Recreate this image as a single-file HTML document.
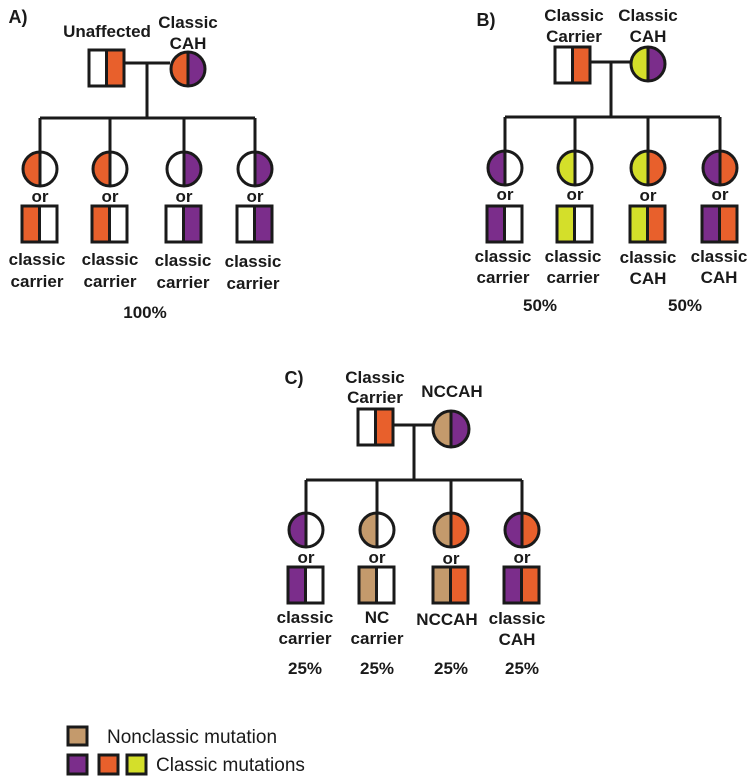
<!DOCTYPE html>
<html><head><meta charset="utf-8"><style>
html,body{margin:0;padding:0;background:#fff}
svg{display:block}
text{font-family:"Liberation Sans",Arial,sans-serif;font-weight:bold;font-size:17px;fill:#1a1a1a;text-anchor:middle}
.n{font-weight:normal;font-size:19px;text-anchor:start}
.h{font-size:18px}
</style></head><body>
<svg width="754" height="784" viewBox="0 0 754 784" xmlns="http://www.w3.org/2000/svg">
<g stroke="#1a1a1a" stroke-width="3" fill="none">
<!-- A lines -->
<path d="M124 63H170M147 63V118M40 118H255M40 118V152M110 118V152M184 118V152M255 118V152"/>
<!-- B lines -->
<path d="M590 62H631M611 62V117M505 117H720M505 117V151M575 117V151M648 117V151M720 117V151"/>
<!-- C lines -->
<path d="M392 425H433M414 425V480M306 480H522M306 480V513M377 480V513M451 480V513M522 480V513"/>
</g>
<script>
</script>
<g id="shapes">
<!-- A parents -->
<rect x="89" y="50" width="17.5" height="36" fill="#fff"/><rect x="106.5" y="50" width="17.5" height="36" fill="#e8602c"/>
<path d="M188 52A17 17 0 0 0 188 86Z" fill="#e8602c"/><path d="M188 52A17 17 0 0 1 188 86Z" fill="#7b2d8b"/>
<!-- B parents -->
<rect x="555" y="47" width="17.5" height="36" fill="#fff"/><rect x="572.5" y="47" width="17.5" height="36" fill="#e8602c"/>
<path d="M648 47A17 17 0 0 0 648 81Z" fill="#d4df2a"/><path d="M648 47A17 17 0 0 1 648 81Z" fill="#7b2d8b"/>
<!-- C parents -->
<rect x="358" y="409" width="17.5" height="36" fill="#fff"/><rect x="375.5" y="409" width="17.5" height="36" fill="#e8602c"/>
<path d="M451 411A17 17 0 0 0 451 447Z" fill="#c49a6c"/><path d="M451 411A17 17 0 0 1 451 447Z" fill="#7b2d8b"/>
</g>
<g stroke="#1a1a1a" stroke-width="3" fill="none">
<rect x="89" y="50" width="35" height="36"/><line x1="106.5" y1="50" x2="106.5" y2="86"/>
<circle cx="188" cy="69" r="17"/><line x1="188" y1="52" x2="188" y2="86"/>
<rect x="555" y="47" width="35" height="36"/><line x1="572.5" y1="47" x2="572.5" y2="83"/>
<circle cx="648" cy="64" r="17"/><line x1="648" y1="47" x2="648" y2="81"/>
<rect x="358" y="409" width="35" height="36"/><line x1="375.5" y1="409" x2="375.5" y2="445"/>
<circle cx="451" cy="429" r="18"/><line x1="451" y1="411" x2="451" y2="447"/>
</g>

<!-- children fills -->
<g>
<!-- A -->
<path d="M40 152A17 17 0 0 0 40 186Z" fill="#e8602c"/><path d="M40 152A17 17 0 0 1 40 186Z" fill="#fff"/>
<rect x="22" y="206" width="17.5" height="36" fill="#e8602c"/><rect x="39.5" y="206" width="17.5" height="36" fill="#fff"/>
<path d="M110 152A17 17 0 0 0 110 186Z" fill="#e8602c"/><path d="M110 152A17 17 0 0 1 110 186Z" fill="#fff"/>
<rect x="92" y="206" width="17.5" height="36" fill="#e8602c"/><rect x="109.5" y="206" width="17.5" height="36" fill="#fff"/>
<path d="M184 152A17 17 0 0 0 184 186Z" fill="#fff"/><path d="M184 152A17 17 0 0 1 184 186Z" fill="#7b2d8b"/>
<rect x="166" y="206" width="17.5" height="36" fill="#fff"/><rect x="183.5" y="206" width="17.5" height="36" fill="#7b2d8b"/>
<path d="M255 152A17 17 0 0 0 255 186Z" fill="#fff"/><path d="M255 152A17 17 0 0 1 255 186Z" fill="#7b2d8b"/>
<rect x="237" y="206" width="17.5" height="36" fill="#fff"/><rect x="254.5" y="206" width="17.5" height="36" fill="#7b2d8b"/>
<!-- B -->
<path d="M505 151A17 17 0 0 0 505 185Z" fill="#7b2d8b"/><path d="M505 151A17 17 0 0 1 505 185Z" fill="#fff"/>
<rect x="487" y="206" width="17.5" height="36" fill="#7b2d8b"/><rect x="504.5" y="206" width="17.5" height="36" fill="#fff"/>
<path d="M575 151A17 17 0 0 0 575 185Z" fill="#d4df2a"/><path d="M575 151A17 17 0 0 1 575 185Z" fill="#fff"/>
<rect x="557" y="206" width="17.5" height="36" fill="#d4df2a"/><rect x="574.5" y="206" width="17.5" height="36" fill="#fff"/>
<path d="M648 151A17 17 0 0 0 648 185Z" fill="#d4df2a"/><path d="M648 151A17 17 0 0 1 648 185Z" fill="#e8602c"/>
<rect x="630" y="206" width="17.5" height="36" fill="#d4df2a"/><rect x="647.5" y="206" width="17.5" height="36" fill="#e8602c"/>
<path d="M720 151A17 17 0 0 0 720 185Z" fill="#7b2d8b"/><path d="M720 151A17 17 0 0 1 720 185Z" fill="#e8602c"/>
<rect x="702" y="206" width="17.5" height="36" fill="#7b2d8b"/><rect x="719.5" y="206" width="17.5" height="36" fill="#e8602c"/>
<!-- C -->
<path d="M306 513A17 17 0 0 0 306 547Z" fill="#7b2d8b"/><path d="M306 513A17 17 0 0 1 306 547Z" fill="#fff"/>
<rect x="288" y="567" width="17.5" height="36" fill="#7b2d8b"/><rect x="305.5" y="567" width="17.5" height="36" fill="#fff"/>
<path d="M377 513A17 17 0 0 0 377 547Z" fill="#c49a6c"/><path d="M377 513A17 17 0 0 1 377 547Z" fill="#fff"/>
<rect x="359" y="567" width="17.5" height="36" fill="#c49a6c"/><rect x="376.5" y="567" width="17.5" height="36" fill="#fff"/>
<path d="M451 513A17 17 0 0 0 451 547Z" fill="#c49a6c"/><path d="M451 513A17 17 0 0 1 451 547Z" fill="#e8602c"/>
<rect x="433" y="567" width="17.5" height="36" fill="#c49a6c"/><rect x="450.5" y="567" width="17.5" height="36" fill="#e8602c"/>
<path d="M522 513A17 17 0 0 0 522 547Z" fill="#7b2d8b"/><path d="M522 513A17 17 0 0 1 522 547Z" fill="#e8602c"/>
<rect x="504" y="567" width="17.5" height="36" fill="#7b2d8b"/><rect x="521.5" y="567" width="17.5" height="36" fill="#e8602c"/>
</g>
<g stroke="#1a1a1a" stroke-width="3" fill="none">
<circle cx="40" cy="169" r="17"/><circle cx="110" cy="169" r="17"/><circle cx="184" cy="169" r="17"/><circle cx="255" cy="169" r="17"/>
<path d="M40 152V186M110 152V186M184 152V186M255 152V186"/>
<rect x="22" y="206" width="35" height="36"/><rect x="92" y="206" width="35" height="36"/><rect x="166" y="206" width="35" height="36"/><rect x="237" y="206" width="35" height="36"/>
<path d="M39.5 206V242M109.5 206V242M183.5 206V242M254.5 206V242"/>
<circle cx="505" cy="168" r="17"/><circle cx="575" cy="168" r="17"/><circle cx="648" cy="168" r="17"/><circle cx="720" cy="168" r="17"/>
<path d="M505 151V185M575 151V185M648 151V185M720 151V185"/>
<rect x="487" y="206" width="35" height="36"/><rect x="557" y="206" width="35" height="36"/><rect x="630" y="206" width="35" height="36"/><rect x="702" y="206" width="35" height="36"/>
<path d="M504.5 206V242M574.5 206V242M647.5 206V242M719.5 206V242"/>
<circle cx="306" cy="530" r="17"/><circle cx="377" cy="530" r="17"/><circle cx="451" cy="530" r="17"/><circle cx="522" cy="530" r="17"/>
<path d="M306 513V547M377 513V547M451 513V547M522 513V547"/>
<rect x="288" y="567" width="35" height="36"/><rect x="359" y="567" width="35" height="36"/><rect x="433" y="567" width="35" height="36"/><rect x="504" y="567" width="35" height="36"/>
<path d="M305.5 567V603M376.5 567V603M450.5 567V603M521.5 567V603"/>
</g>

<!-- text A -->
<text x="18" y="23" class="h">A)</text>
<text x="107" y="37">Unaffected</text>
<text x="188" y="28">Classic</text><text x="188" y="49">CAH</text>
<text x="40" y="202">or</text><text x="110" y="202">or</text><text x="184" y="202">or</text><text x="255" y="202">or</text>
<text x="37" y="265">classic</text><text x="37" y="287">carrier</text>
<text x="110" y="265">classic</text><text x="110" y="287">carrier</text>
<text x="183" y="266">classic</text><text x="183" y="288">carrier</text>
<text x="253" y="267">classic</text><text x="253" y="289">carrier</text>
<text x="145" y="318">100%</text>
<!-- text B -->
<text x="486" y="26" class="h">B)</text>
<text x="574" y="21">Classic</text><text x="574" y="42">Carrier</text>
<text x="648" y="21">Classic</text><text x="648" y="42">CAH</text>
<text x="505" y="200">or</text><text x="575" y="200">or</text><text x="648" y="201">or</text><text x="720" y="200">or</text>
<text x="503" y="262">classic</text><text x="503" y="283">carrier</text>
<text x="573" y="262">classic</text><text x="573" y="283">carrier</text>
<text x="648" y="263">classic</text><text x="648" y="284">CAH</text>
<text x="719" y="262">classic</text><text x="719" y="283">CAH</text>
<text x="540" y="311">50%</text><text x="685" y="311">50%</text>
<!-- text C -->
<text x="294" y="384" class="h">C)</text>
<text x="375" y="383">Classic</text><text x="375" y="403">Carrier</text>
<text x="452" y="397">NCCAH</text>
<text x="306" y="563">or</text><text x="377" y="563">or</text><text x="451" y="564">or</text><text x="522" y="563">or</text>
<text x="305" y="623">classic</text><text x="305" y="644">carrier</text>
<text x="377" y="623">NC</text><text x="377" y="644">carrier</text>
<text x="447" y="625">NCCAH</text>
<text x="517" y="624">classic</text><text x="517" y="645">CAH</text>
<text x="305" y="674">25%</text><text x="377" y="674">25%</text><text x="451" y="674">25%</text><text x="522" y="674">25%</text>
<!-- legend -->
<g stroke="#1a1a1a" stroke-width="3">
<rect x="68" y="727" width="19" height="18" fill="#c49a6c"/>
<rect x="68" y="755" width="19" height="19" fill="#7b2d8b"/>
<rect x="99" y="755" width="19" height="19" fill="#e8602c"/>
<rect x="127" y="755" width="19" height="19" fill="#d4df2a"/>
</g>
<text x="107" y="743" class="n">Nonclassic mutation</text>
<text x="156" y="771" class="n">Classic mutations</text>
</svg>
</body></html>
